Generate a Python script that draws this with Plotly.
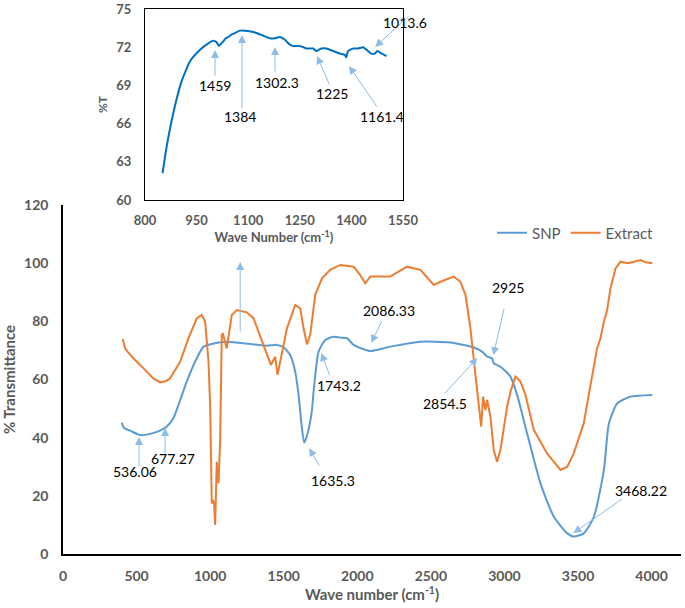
import plotly.graph_objects as go

# ---------------- data ----------------
snp_x = [399, 415, 456, 524, 592, 660, 705, 750, 790, 841, 909, 955, 1023, 1113, 1272, 1385, 1454, 1499,
         1544, 1578, 1601, 1620, 1639, 1660, 1692, 1703, 1737, 1782, 1839, 1884, 1930, 1975, 2088, 2224, 2429,
         2633, 2791, 2848, 2882, 2916, 2927, 2973, 3041, 3086, 3154, 3245, 3336, 3427, 3471, 3539, 3608,
         3676, 3710, 3767, 3857, 4005]
snp_y = [45.2, 43.3, 42.4, 40.9, 41.3, 42.4, 43.8, 46.7, 52.0, 59.3, 67.3, 71.3, 72.4, 73.0, 72.2, 71.6, 71.9, 71.1,
         68.4, 62.7, 54.7, 45.0, 38.3, 41.0, 49.5, 55.8, 69.6, 73.6, 74.7, 74.4, 74.2, 71.9, 69.8, 71.3, 73.0,
         72.7, 71.0, 69.6, 67.9, 67.3, 65.6, 64.4, 61.0, 54.7, 41.5, 24.3, 12.8, 7.1, 6.0, 7.1, 12.8,
         28.9, 44.9, 51.8, 54.1, 54.7]

ext_x = [406, 422, 440, 478, 546, 614, 660, 700, 728, 796, 853, 909, 943, 966, 989, 1000, 1011, 1020, 1027, 1034,
         1045, 1057, 1068, 1075, 1079, 1086, 1113, 1147, 1181, 1249, 1295, 1329, 1363, 1385, 1413, 1442, 1458,
         1476, 1522, 1578, 1612, 1635, 1658, 1680, 1714, 1760, 1816, 1884, 1930, 1975, 2020, 2054, 2088, 2224,
         2338, 2429, 2520, 2565, 2656, 2701, 2735, 2769, 2803, 2826, 2842, 2855, 2871, 2882, 2905, 2927, 2950,
         2973, 2995, 3018, 3041, 3075, 3109, 3143, 3200, 3290, 3381, 3427, 3471, 3539, 3573, 3630, 3652, 3676,
         3698, 3721, 3755, 3789, 3840, 3880, 3925, 3960, 4005]
ext_y = [73.9, 70.7, 69.5, 67.3, 63.9, 60.4, 59.0, 59.5, 60.4, 66.1, 74.2, 81.0, 82.2, 79.9, 66.1, 51.2, 17.4, 18.6, 17.0, 10.0,
         31.7, 24.3, 39.2, 56.4, 75.3, 75.9, 70.7, 82.2, 83.9, 83.1, 81.0, 76.4, 71.9, 68.4, 65.0, 67.8, 61.6,
         66.1, 77.6, 85.6, 84.5, 77.6, 72.1, 75.3, 89.1, 94.8, 97.7, 99.4, 99.1, 98.8, 95.9, 93.1, 95.4, 95.4,
         98.8, 97.7, 92.5, 93.6, 95.4, 93.6, 89.1, 77.6, 61.6, 49.5, 43.8, 54.1, 49.5, 53.0, 47.2, 35.8, 31.7,
         35.8, 42.6, 50.6, 55.8, 61.0, 59.3, 54.7, 42.6, 34.6, 28.9, 30.0, 34.6, 44.9, 54.7, 70.7, 74.0, 79.9,
         83.9, 91.4, 98.2, 100.5, 100.0, 100.5, 101.1, 100.3, 100.0]

inset_x = [851, 863, 882, 906, 931, 960, 984, 998, 1008, 1015, 1022, 1029, 1035, 1042, 1052, 1061, 1076, 1090,
           1115, 1144, 1163, 1177, 1192, 1206, 1221, 1231, 1250, 1269, 1289, 1298, 1313, 1327, 1347, 1366,
           1381, 1385, 1390, 1405, 1419, 1434, 1444, 1458, 1468, 1475, 1482, 1502]
inset_y = [62.1, 64.2, 66.8, 69.3, 70.9, 71.8, 72.3, 72.5, 72.4, 72.1, 72.3, 72.5, 72.7, 72.8, 73.0, 73.1, 73.3, 73.3,
           73.2, 72.9, 72.7, 72.7, 72.8, 72.6, 72.2, 72.1, 72.1, 71.9, 71.9, 71.7, 71.9, 71.9, 71.7, 71.5,
           71.4, 71.2, 71.7, 71.9, 71.9, 72.0, 71.8, 71.5, 71.5, 71.7, 71.6, 71.3]

main_xticks = [0, 500, 1000, 1500, 2000, 2500, 3000, 3500, 4000]
main_yticks = [0, 20, 40, 60, 80, 100, 120]
inset_xticks = [800, 950, 1100, 1250, 1400, 1550]
inset_yticks = [60, 63, 66, 69, 72, 75]

# peak labels: (text, label x, label y, arrow tail x, tail y, tip x, tip y)
main_peaks = [
    ("536.06", 490, 28.2, 517, 29.6, 517, 40.2),
    ("677.27", 748, 33.0, 694, 34.0, 694, 43.3),
    ("1635.3", 1837, 25.4, 1748, 29.9, 1673, 36.4),
    ("1743.2", 1878, 57.8, 1816, 60.9, 1755, 69.1),
    ("2086.33", 2218, 83.6, 2170, 80.5, 2095, 72.6),
    ("2925", 3027, 91.5, 3000, 84.9, 2925, 68.4),
    ("2854.5", 2599, 51.9, 2585, 54.7, 2816, 67.4),
    ("3468.22", 3925, 21.7, 3810, 19.3, 3469, 7.2),
    ("", 1204, 76.0, 1204, 76.0, 1204, 100.4),
]
inset_peaks = [
    ("1459", 1003.5, 69.03, 1003.5, 69.66, 1003.5, 71.78),
    ("1384", 1076, 66.52, 1082, 67.07, 1082, 72.96),
    ("1302.3", 1184, 69.19, 1178, 69.97, 1178, 72.02),
    ("1225", 1344, 68.40, 1338, 68.95, 1300, 71.31),
    ("1161.4", 1489, 66.52, 1477, 67.23, 1393, 70.52),
    ("1013.6", None, None, 1570, 74.53, 1469, 72.02),
]

FONT = "Lato"
GRAY = "#595959"
W, H = 685, 608

fig = go.Figure()
fig.add_trace(go.Scatter(x=snp_x, y=snp_y, mode="lines", name="SNP",
                         line=dict(color="#5B9BD5", width=2, shape="spline", smoothing=0.6),
                         xaxis="x", yaxis="y"))
fig.add_trace(go.Scatter(x=ext_x, y=ext_y, mode="lines", name="Extract",
                         line=dict(color="#ED7D31", width=2), xaxis="x", yaxis="y"))
fig.add_trace(go.Scatter(x=inset_x, y=inset_y, mode="lines", name="inset", showlegend=False,
                         line=dict(color="#0070C0", width=2, shape="spline", smoothing=0.5),
                         xaxis="x2", yaxis="y2"))

annotations = []
def add_peaks(peaks, xr, yr):
    for txt, lx, ly, tx, ty, px, py in peaks:
        annotations.append(dict(x=px, y=py, ax=tx, ay=ty, xref=xr, yref=yr, axref=xr, ayref=yr,
                                text="", showarrow=True, arrowhead=2, arrowsize=1.6, arrowwidth=1,
                                arrowcolor="#8DBCE6", standoff=0, startstandoff=0))
        if txt and lx is not None:
            annotations.append(dict(x=lx, y=ly, xref=xr, yref=yr, text=txt, showarrow=False,
                                    font=dict(family=FONT, size=14, color="#000000")))
add_peaks(main_peaks, "x", "y")
add_peaks(inset_peaks, "x2", "y2")
# label sitting outside the inset's axis range -> place in paper coordinates
annotations.append(dict(x=405 / W, y=1 - 12 / H, xref="paper", yref="paper", text="1013.6",
                        showarrow=False, font=dict(family=FONT, size=14, color="#000000")))

fig.update_layout(
    width=W, height=H,
    margin=dict(l=0, r=0, t=0, b=0),
    paper_bgcolor="white", plot_bgcolor="white",
    font=dict(family=FONT, color=GRAY),
    showlegend=True,
    legend=dict(orientation="h", x=492 / W, y=1 - 233 / H, xanchor="left", yanchor="middle",
                font=dict(family=FONT, size=15, color=GRAY), bgcolor="rgba(0,0,0,0)",
                itemwidth=30, tracegroupgap=0),
    xaxis=dict(domain=[63 / W, 681 / W], range=[0, 4200], tickvals=main_xticks, automargin=False,
               showgrid=False, zeroline=False, showline=True, linecolor="black", linewidth=1.5,
               ticks="", ticklabelstandoff=8,
               tickfont=dict(family=FONT, size=14, color=GRAY, weight="bold"),
               title=dict(text="Wave number (cm<sup>-1</sup>)", standoff=0,
                          font=dict(family=FONT, size=15, color=GRAY, weight="bold")),
               anchor="y"),
    yaxis=dict(domain=[54 / H, 403 / H], range=[0, 120], tickvals=main_yticks, automargin=False,
               showgrid=False, zeroline=False, showline=True, linecolor="black", linewidth=1.5,
               ticks="", ticklabelstandoff=10,
               tickfont=dict(family=FONT, size=14, color=GRAY, weight="bold"),
               title=dict(text="% Transmittance", standoff=6,
                          font=dict(family=FONT, size=15, color=GRAY, weight="bold")),
               anchor="x"),
    xaxis2=dict(domain=[145 / W, 403 / W], range=[800, 1550], tickvals=inset_xticks, automargin=False,
                showgrid=False, zeroline=False, showline=True, mirror=True, linecolor="black", linewidth=1.2,
                ticks="", ticklabelstandoff=8,
                tickfont=dict(family=FONT, size=13, color=GRAY, weight="bold"),
                title=dict(text="Wave Number (cm<sup>-1</sup>)", standoff=3,
                           font=dict(family=FONT, size=13, color=GRAY, weight="bold")),
                anchor="y2"),
    yaxis2=dict(domain=[1 - 200 / H, 1 - 9 / H], range=[60, 75], tickvals=inset_yticks, automargin=False,
                showgrid=False, zeroline=False, showline=True, mirror=True, linecolor="black", linewidth=1.2,
                ticks="", ticklabelstandoff=10,
                tickfont=dict(family=FONT, size=13, color=GRAY, weight="bold"),
                title=dict(text="%T", standoff=6,
                           font=dict(family=FONT, size=12, color=GRAY, weight="bold")),
                anchor="x2"),
    annotations=annotations,
)

# the page's default 8px body margin would shift the figure; remove it
fig.write_html("out.html", config={"displayModeBar": False},
               post_script="document.body.style.margin='0';")
